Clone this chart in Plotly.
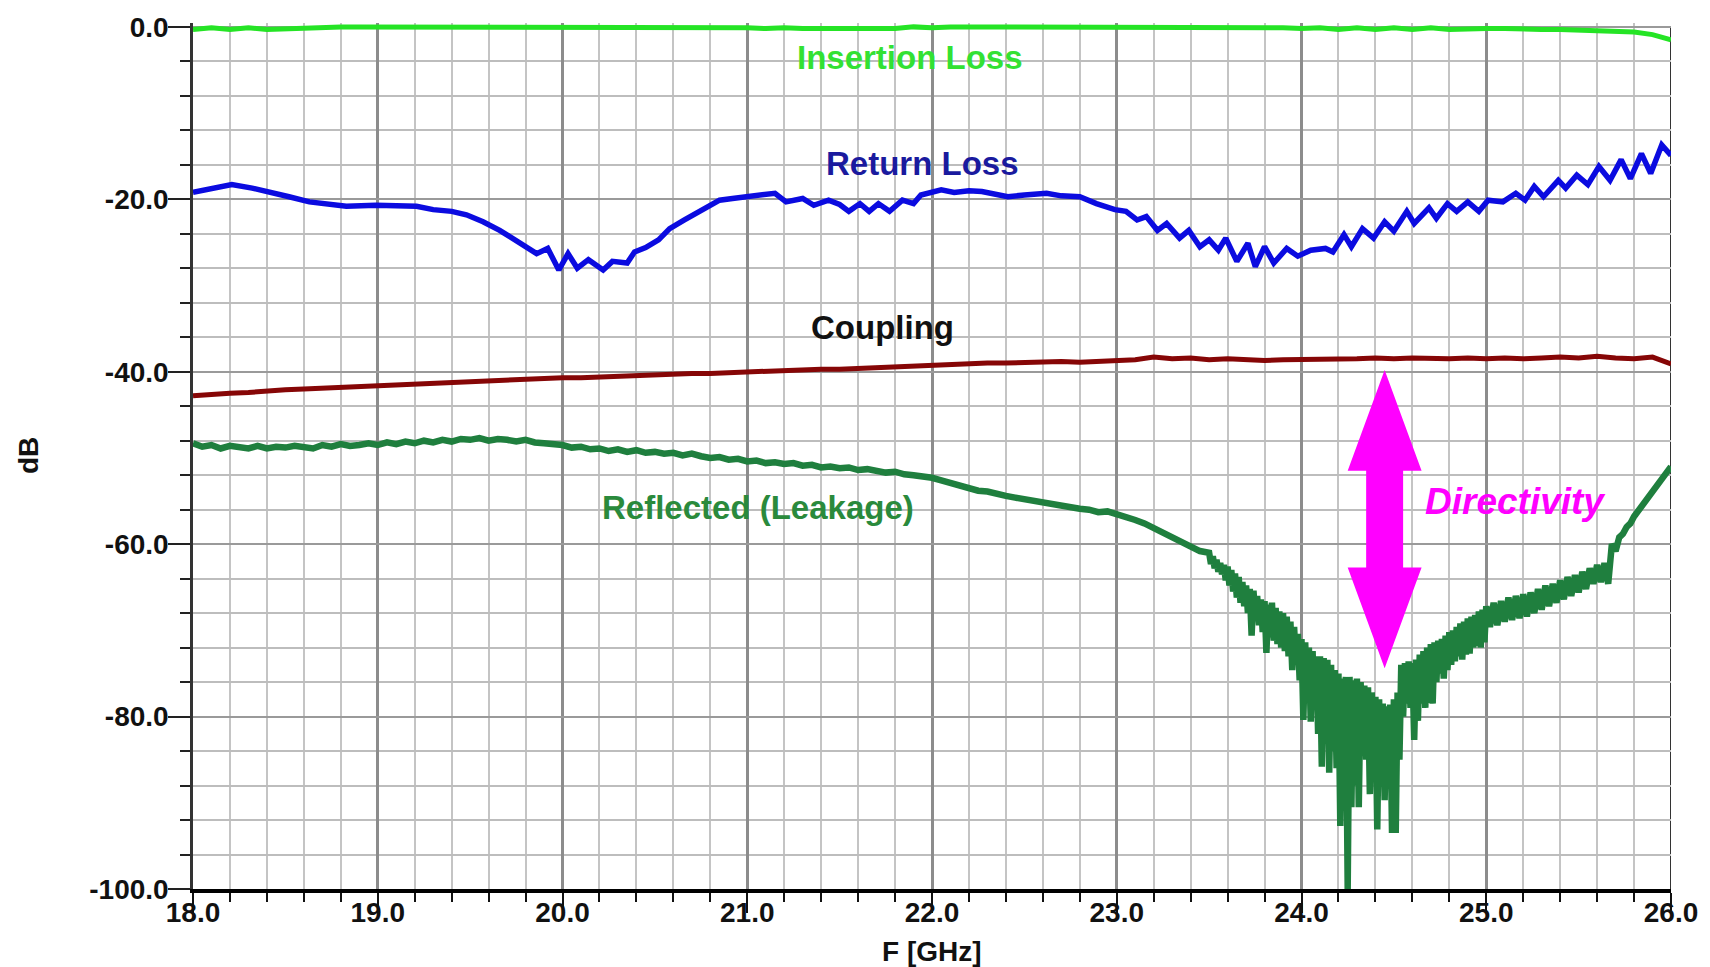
import numpy as np
import plotly.graph_objects as go

# ---------------- data ----------------
freq_il = np.linspace(18.0, 26.0, 81)
insertion_loss = [
    -0.3, -0.1, -0.3, -0.1, -0.3, -0.2, -0.1, 0.0, 0.0, 0.0,
    0.0, 0.0, 0.0, 0.0, 0.0, 0.0, 0.0, 0.0, 0.0, 0.0,
    0.0, 0.0, 0.0, 0.0, 0.0, 0.0, 0.0, 0.0, 0.0, 0.0,
    -0.1, -0.2, -0.1, -0.2, -0.2, -0.1, -0.2, -0.1, -0.2, 0.0,
    -0.1, 0.0, 0.0, 0.0, 0.0, 0.0, -0.1, 0.0, -0.1, 0.0,
    0.0, 0.0, 0.0, 0.0, 0.0, 0.0, 0.0, 0.0, 0.0, -0.1,
    -0.2, -0.1, -0.3, -0.1, -0.3, -0.1, -0.3, -0.1, -0.3, -0.2,
    -0.2, -0.2, -0.3, -0.3, -0.3, -0.4, -0.4, -0.5, -0.6, -0.9,
    -1.5,
]

freq_rl = [
    18.00, 18.09, 18.21, 18.32, 18.43, 18.52, 18.63, 18.74, 18.83, 18.99,
    19.10, 19.21, 19.30, 19.40, 19.48, 19.57, 19.66, 19.72, 19.79, 19.86,
    19.92, 19.98, 20.03, 20.08, 20.14, 20.22, 20.27, 20.35, 20.39, 20.45,
    20.52, 20.58, 20.66, 20.76, 20.85, 20.92, 20.99, 21.07, 21.15, 21.21,
    21.30, 21.36, 21.44, 21.50, 21.55, 21.61, 21.66, 21.71, 21.77, 21.84,
    21.90, 21.94, 22.05, 22.12, 22.20, 22.27, 22.34, 22.41, 22.50, 22.62,
    22.70, 22.80, 22.89, 22.99, 23.05, 23.11, 23.16, 23.22, 23.27, 23.34,
    23.39, 23.45, 23.50, 23.55, 23.59, 23.65, 23.71, 23.75, 23.80, 23.85,
    23.92, 23.98, 24.05, 24.13, 24.17, 24.23, 24.27, 24.33, 24.39, 24.45,
    24.50, 24.57, 24.61, 24.69, 24.73, 24.79, 24.84, 24.90, 24.96, 25.01,
    25.09, 25.16, 25.21, 25.26, 25.31, 25.39, 25.43, 25.49, 25.55, 25.61,
    25.67, 25.73, 25.78, 25.84, 25.89, 25.95, 26.00,
]
return_loss = [
    -19.2, -18.8, -18.3, -18.7, -19.2, -19.7, -20.3, -20.5, -20.8, -20.7,
    -20.7, -20.8, -21.2, -21.4, -21.8, -22.6, -23.6, -24.4, -25.3, -26.3,
    -25.7, -28.2, -26.3, -28.0, -27.0, -28.2, -27.2, -27.4, -26.1, -25.6,
    -24.7, -23.4, -22.4, -21.2, -20.1, -19.9, -19.7, -19.6, -19.3, -20.3,
    -19.9, -20.7, -20.1, -20.6, -21.4, -20.5, -21.4, -20.5, -21.4, -20.1,
    -20.5, -19.5, -18.9, -19.2, -19.0, -19.1, -19.4, -19.7, -19.5, -19.3,
    -19.6, -19.7, -20.5, -21.2, -21.4, -22.4, -22.0, -23.6, -22.8, -24.5,
    -23.6, -25.5, -24.7, -25.9, -24.5, -27.2, -25.1, -27.8, -25.5, -27.4,
    -25.7, -26.6, -25.9, -25.7, -26.1, -24.1, -25.5, -23.4, -24.5, -22.6,
    -23.7, -21.4, -22.8, -21.0, -22.2, -20.5, -21.4, -20.3, -21.4, -20.1,
    -20.3, -19.3, -20.1, -18.5, -19.7, -17.8, -18.7, -17.2, -18.3, -16.2,
    -17.8, -15.4, -17.6, -14.7, -17.0, -13.7, -14.9,
]

freq_cp = np.linspace(18.0, 26.0, 81)
coupling = [
    -42.8, -42.6, -42.5, -42.4, -42.2, -42.1, -42.0, -41.9, -41.8, -41.7,
    -41.6, -41.5, -41.4, -41.3, -41.2, -41.1, -41.0, -41.0, -40.9, -40.8,
    -40.7, -40.7, -40.6, -40.5, -40.5, -40.4, -40.3, -40.2, -40.2, -40.1,
    -40.0, -39.9, -39.9, -39.8, -39.7, -39.7, -39.6, -39.5, -39.4, -39.3,
    -39.2, -39.1, -39.1, -39.0, -39.0, -38.9, -38.9, -38.8, -38.9, -38.8,
    -38.8, -38.6, -38.3, -38.5, -38.4, -38.6, -38.5, -38.6, -38.7, -38.6,
    -38.6, -38.5, -38.6, -38.5, -38.4, -38.5, -38.4, -38.5, -38.5, -38.4,
    -38.5, -38.4, -38.5, -38.4, -38.3, -38.4, -38.2, -38.4, -38.5, -38.3,
    -39.1,
]

freq_refl = np.concatenate([
    np.linspace(18.0, 23.45, 110),
    np.linspace(23.5, 25.0, 151),
    np.linspace(25.02, 26.0, 50),
])
reflected = [
    # 18.00 - 23.45 (0.05 GHz)
    -48.3, -48.7, -48.5, -48.9, -48.6, -48.8, -48.9, -48.6, -48.9, -48.7,
    -48.8, -48.6, -48.7, -48.9, -48.5, -48.7, -48.4, -48.6, -48.5, -48.3,
    -48.5, -48.2, -48.4, -48.1, -48.3, -48.0, -48.2, -47.9, -48.1, -47.8,
    -47.9, -47.7, -48.0, -47.8, -47.9, -48.1, -47.9, -48.2, -48.3, -48.4,
    -48.5, -48.8, -48.7, -49.0, -48.9, -49.2, -49.0, -49.3, -49.1, -49.4,
    -49.3, -49.5, -49.4, -49.7, -49.5, -49.8, -50.0, -49.9, -50.2, -50.1,
    -50.4, -50.3, -50.6, -50.5, -50.7, -50.6, -50.9, -50.8, -51.1, -51.0,
    -51.2, -51.1, -51.4, -51.3, -51.5, -51.7, -51.6, -51.9, -52.0, -52.1,
    -52.3, -52.6, -52.9, -53.2, -53.5, -53.8, -53.9, -54.2, -54.4, -54.6,
    -54.8, -55.0, -55.1, -55.4, -55.6, -55.7, -55.9, -56.0, -56.3, -56.2,
    -56.5, -56.8, -57.2, -57.6, -58.1, -58.6, -59.2, -59.8, -60.2, -60.8,
    # 23.50 - 25.00 (0.01 GHz)
    -61.0, -62.3, -61.4, -62.8, -61.8, -63.2, -62.2, -63.5, -62.4, -64.2,
    -62.6, -64.8, -63.0, -65.5, -63.4, -66.2, -63.8, -66.8, -64.4, -67.2,
    -64.8, -68.0, -65.2, -70.6, -65.4, -68.5, -66.0, -69.4, -66.4, -70.2,
    -66.6, -72.6, -67.0, -70.8, -66.8, -71.2, -67.4, -71.6, -67.8, -72.0,
    -68.0, -72.4, -68.4, -73.0, -69.0, -74.6, -69.6, -74.0, -70.4, -75.8,
    -71.0, -80.4, -71.4, -78.0, -72.0, -80.6, -72.4, -79.0, -73.0, -82.0,
    -73.0, -85.8, -73.2, -83.0, -73.4, -86.5, -74.0, -84.0, -74.6, -86.0,
    -75.0, -92.7, -75.6, -88.0, -75.4, -100.0, -75.4, -90.5, -75.8, -88.0,
    -75.6, -90.5, -76.0, -84.0, -76.4, -85.0, -76.6, -89.0, -77.2, -86.0,
    -77.7, -93.1, -78.0, -88.0, -78.5, -89.7, -78.8, -88.0, -78.6, -93.5,
    -78.0, -93.5, -77.2, -85.0, -74.0, -80.0, -73.8, -78.5, -73.6, -79.0,
    -73.8, -82.7, -73.4, -80.5, -72.8, -78.5, -72.4, -79.0, -72.0, -78.4,
    -71.6, -78.5, -71.4, -76.0, -71.2, -75.0, -71.0, -75.6, -70.6, -74.6,
    -70.2, -74.0, -70.0, -73.6, -69.6, -73.0, -69.2, -73.4, -69.0, -72.8,
    -68.6, -72.7, -68.4, -72.0, -68.2, -71.8, -67.8, -72.0, -67.6, -71.4,
    -67.2,
    # 25.02 - 26.00 (0.02 GHz)
    -69.6, -66.8, -69.4, -66.6, -69.0, -66.2, -68.8, -66.0, -68.6, -65.8,
    -68.4, -65.6, -68.0, -65.2, -67.6, -64.8, -67.2, -64.6, -66.8, -64.2,
    -66.4, -63.8, -66.0, -63.6, -65.6, -63.2, -65.2, -62.8, -64.6, -62.4,
    -64.4, -62.2, -64.6, -60.0, -60.8, -59.2, -58.8, -58.0, -57.6, -56.8,
    -56.2, -55.6, -55.0, -54.4, -53.8, -53.4, -52.6, -52.2, -51.6, -51.0,
]

x_tick_vals = [18, 19, 20, 21, 22, 23, 24, 25, 26]
y_tick_vals = [-100, -80, -60, -40, -20, 0]

# ---------------- styles ----------------
FONT = "Liberation Sans, Arial, sans-serif"
C_IL = "#25e425"
C_RL = "#0b0be0"
C_CP = "#860606"
C_RF = "#1f7f3e"
C_ARROW = "#ff00ff"

fig = go.Figure()
fig.add_trace(go.Scatter(x=freq_cp, y=coupling, mode="lines",
                         line=dict(color=C_CP, width=5), hoverinfo="skip"))
fig.add_trace(go.Scatter(x=freq_refl, y=reflected, mode="lines",
                         line=dict(color=C_RF, width=6.5), hoverinfo="skip"))
fig.add_trace(go.Scatter(x=freq_rl, y=return_loss, mode="lines",
                         line=dict(color=C_RL, width=5.5), hoverinfo="skip"))
fig.add_trace(go.Scatter(x=freq_il, y=insertion_loss, mode="lines",
                         line=dict(color=C_IL, width=5), hoverinfo="skip"))

# double-headed "Directivity" arrow (filled polygon)
ax_c, shaft_hw, head_hw = 24.45, 0.1, 0.2
top_tip, top_base, bot_base, bot_tip = -39.8, -51.5, -62.7, -74.4
arrow_path = (
    f"M {ax_c},{top_tip} L {ax_c + head_hw},{top_base} L {ax_c + shaft_hw},{top_base} "
    f"L {ax_c + shaft_hw},{bot_base} L {ax_c + head_hw},{bot_base} L {ax_c},{bot_tip} "
    f"L {ax_c - head_hw},{bot_base} L {ax_c - shaft_hw},{bot_base} L {ax_c - shaft_hw},{top_base} "
    f"L {ax_c - head_hw},{top_base} Z"
)
fig.add_shape(type="path", path=arrow_path, xref="x", yref="y",
              fillcolor=C_ARROW, line=dict(color=C_ARROW, width=0), layer="above")

# frame: top (0 dB) and right edge
fig.add_shape(type="line", x0=18, x1=26, y0=0, y1=0, xref="x", yref="y",
              line=dict(color="#222222", width=1.5), layer="below")
fig.add_shape(type="line", x0=26, x1=26, y0=-100, y1=0, xref="x", yref="y",
              line=dict(color="#333333", width=2), layer="below")

ann_font = dict(family=FONT, size=33)
annotations = [
    dict(x=21.88, y=-3.6, text="<b>Insertion Loss</b>", font=dict(ann_font, color="#33e133")),
    dict(x=21.95, y=-15.8, text="<b>Return Loss</b>", font=dict(ann_font, color="#1a1a9e")),
    dict(x=21.73, y=-34.9, text="<b>Coupling</b>", font=dict(ann_font, color="#111111")),
    dict(x=21.06, y=-55.7, text="<b>Reflected (Leakage)</b>", font=dict(ann_font, color="#2a8a3c")),
    dict(x=25.16, y=-55.0, text="<b><i>Directivity</i></b>",
         font=dict(family=FONT, size=37, color=C_ARROW)),
]
for a in annotations:
    fig.add_annotation(xref="x", yref="y", showarrow=False,
                       xanchor="center", yanchor="middle", **a)

fig.add_annotation(xref="paper", yref="paper", x=-0.1116, y=0.5, text="<b>dB</b>",
                   textangle=-90, showarrow=False, xanchor="center", yanchor="middle",
                   font=dict(family=FONT, size=28, color="#111111"))
fig.add_annotation(xref="paper", yref="paper", x=0.5, y=-0.0716, text="<b>F [GHz]</b>",
                   showarrow=False, xanchor="center", yanchor="middle",
                   font=dict(family=FONT, size=28, color="#111111"))

tick_font = dict(family=FONT, size=28, color="#111111", weight="bold")

fig.update_xaxes(
    range=[18, 26], tickmode="array", tickvals=x_tick_vals,
    ticktext=[f"{v:.1f}" for v in x_tick_vals],
    ticks="outside", ticklen=20, tickwidth=2, tickcolor="#111111",
    ticklabelstandoff=-24,
    tickfont=tick_font,
    showgrid=True, gridcolor="#8c8c8c", gridwidth=2.5,
    minor=dict(dtick=0.2, tick0=18, ticks="outside", ticklen=9, tickwidth=2,
               tickcolor="#111111", showgrid=True, gridcolor="#c4c4c4", gridwidth=1.6),
    showline=True, linecolor="#000000", linewidth=3.5,
    zeroline=False, fixedrange=True,
)
fig.update_yaxes(
    range=[-100, 0.45], tickmode="array", tickvals=y_tick_vals,
    ticktext=[f"{v:.1f}" for v in y_tick_vals],
    ticks="outside", ticklen=22, tickwidth=2, tickcolor="#222222",
    ticklabelstandoff=-6,
    tickfont=tick_font,
    showgrid=True, gridcolor="#9a9a9a", gridwidth=2,
    minor=dict(dtick=4, tick0=0, ticks="outside", ticklen=10, tickwidth=2,
               tickcolor="#222222", showgrid=True, gridcolor="#bdbdbd", gridwidth=1.8),
    showline=True, linecolor="#333333", linewidth=2.5,
    zeroline=False, fixedrange=True,
)

fig.update_layout(
    width=1710, height=967,
    margin=dict(l=193, r=30, t=23, b=78, pad=0),
    paper_bgcolor="white", plot_bgcolor="white",
    showlegend=False,
    font=dict(family=FONT, color="#111111"),
)

fig.write_html("out.html", config={"displayModeBar": False})
